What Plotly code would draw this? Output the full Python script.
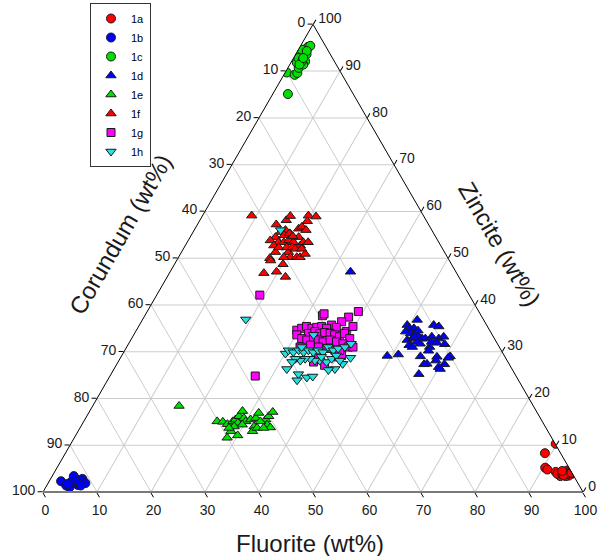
import plotly.graph_objects as go

# ---- data: (fluorite wt%, zincite wt%); corundum = remainder (computed by plotly from sum=100)
s1a_fluorite = [89.8, 88.8, 90.4, 91.0, 92.8, 93.6, 94.4, 94.8, 95.4, 96.0, 95.6, 95.1, 94.1, 93.3, 95.7, 94.2, 95.1, 94.6, 95.8, 93.9]
s1a_zincite  = [10.3, 8.3, 5.2, 4.8, 4.3, 3.9, 4.3, 4.6, 4.6, 3.9, 3.5, 3.4, 3.4, 3.9, 4.3, 3.9, 3.9, 3.6, 4.1, 4.5]

s1b_fluorite = [2.2, 3.6, 4.4, 4.0, 4.5, 5.7, 5.9, 6.9, 5.5, 5.0, 4.1, 3.7, 6.3]
s1b_zincite  = [2.3, 1.4, 1.0, 3.4, 1.9, 1.5, 2.8, 1.9, 2.5, 2.2, 2.1, 1.7, 1.4]

s1c_fluorite = [0.3, 2.8, 2.0, 2.3, 2.0, 1.1, 1.4, 1.3, 1.25, 1.2, 1.5, 1.8, 2.0, 2.5, 2.5, 0.8, 0.6, 1.7, 0.9, 1.9, 1.8, 1.8]
s1c_zincite  = [89.7, 85.1, 89.2, 89.6, 90.7, 91.8, 92.5, 93.2, 93.9, 94.6, 95.2, 95.4, 93.6, 92.1, 91.4, 93.6, 94.6, 94.3, 92.8, 92.1, 91.4, 92.8]

s1d_fluorite = [33.4, 50.9, 49.6, 50.3, 51.2, 50.0, 51.1, 52.0, 53.0, 53.8, 51.2, 52.0, 53.2, 52.1, 52.9, 54.0, 54.4, 55.4,
                55.9, 56.1, 56.3, 54.5, 55.6, 56.9, 57.6, 58.6, 57.0, 49.2, 51.1, 55.4, 57.4, 56.9, 58.5, 58.7, 60.9,
                60.7, 60.7, 59.9, 60.4, 57.0, 52.1, 52.2]
s1d_zincite  = [47.1, 36.8, 35.7, 35.0, 35.0, 34.3, 33.9, 33.9, 33.2, 32.8, 32.5, 32.8, 32.1, 31.4, 31.0, 31.7, 32.8, 33.2,
                32.1, 31.0, 30.2, 35.7, 35.4, 32.8, 33.2, 31.6, 31.9, 29.1, 29.4, 29.0, 27.4, 27.3, 28.9, 28.1, 29.0,
                28.7, 27.3, 26.7, 26.3, 25.2, 33.2, 34.5]

s1e_fluorite = [16.0, 24.7, 25.8, 26.9, 27.6, 27.9, 28.2, 28.3, 29.3, 28.7, 28.4, 28.3, 28.3, 30.0, 30.0, 30.7, 31.5, 31.5,
                32.1, 32.3, 32.8, 33.5, 33.7, 34.0, 34.3, 35.2, 34.0, 32.7, 29.7, 27.6]
s1e_zincite  = [18.4, 15.1, 15.0, 14.5, 15.1, 15.5, 16.2, 17.3, 15.8, 14.8, 14.0, 13.0, 11.6, 12.1, 15.1, 15.5, 15.8, 16.9,
                14.0, 13.0, 13.7, 15.5, 16.2, 17.1, 14.4, 13.8, 13.7, 15.1, 14.4, 13.7]

s1f_fluorite = [9.1, 14.6, 16.0, 16.3, 19.6, 21.1, 20.0, 19.2, 19.6, 20.7, 16.2, 16.9, 18.2, 15.8, 15.2, 16.9, 17.9, 18.6,
                19.7, 20.1, 21.3, 21.5, 22.4, 16.4, 17.4, 17.0, 17.4, 19.8, 20.7, 19.5, 21.9, 22.5, 23.1, 17.5, 19.7,
                20.1, 21.9, 17.5, 19.0, 20.0, 20.7, 21.9, 17.2, 18.0, 18.9]
s1f_zincite  = [59.1, 57.2, 58.1, 59.0, 59.1, 58.9, 57.9, 56.3, 56.7, 56.0, 55.6, 56.0, 55.2, 54.5, 53.8, 53.4, 53.4, 53.8,
                53.4, 54.5, 52.7, 53.4, 53.4, 52.7, 51.3, 50.0, 49.5, 51.3, 50.2, 50.2, 50.2, 50.2, 50.9, 46.8, 47.1,
                48.7, 46.0, 52.3, 52.3, 52.3, 52.0, 52.0, 54.9, 55.3, 54.7]

s1g_fluorite = [19.1, 26.9, 32.9, 33.0, 37.9, 39.1, 37.1, 35.6, 36.7, 39.0, 39.7, 29.7, 30.4, 31.1, 32.3, 33.1, 33.9, 35.0,
                32.2, 33.2, 34.3, 35.1, 36.2, 37.2, 38.3, 38.9, 40.4, 30.2, 31.5, 32.6, 33.7, 34.7, 35.8, 36.9, 38.3,
                39.7, 41.0, 41.9, 36.2, 38.6, 39.9, 40.7, 32.1, 33.8, 35.5, 37.4, 38.9, 39.8, 36.1]
s1g_zincite  = [42.1, 24.8, 37.7, 38.1, 37.4, 38.6, 36.4, 35.7, 35.2, 34.3, 35.4, 34.6, 35.0, 35.4, 35.0, 35.2, 35.4, 35.0,
                33.9, 34.3, 33.9, 34.1, 33.9, 33.6, 33.2, 33.9, 32.8, 33.6, 32.8, 32.5, 32.8, 32.5, 32.1, 32.5, 32.1,
                31.7, 31.0, 31.0, 27.8, 27.1, 28.9, 29.2, 31.0, 31.4, 31.0, 30.7, 30.3, 30.3, 28.9]

s1h_fluorite = [16.0, 19.1, 30.1, 30.3, 31.4, 32.2, 33.3, 34.0, 35.1, 35.8, 36.9, 37.3, 38.6, 39.3, 40.4, 41.2, 42.6, 41.8,
                40.9, 39.8, 38.6, 37.2, 36.3, 35.2, 34.3, 33.6, 32.5, 32.2, 32.0, 34.7, 35.1, 36.6, 37.6, 32.4, 33.3,
                37.1, 39.2, 39.7, 40.9]
s1h_zincite  = [56.0, 36.9, 29.6, 30.3, 29.9, 30.3, 29.9, 30.3, 29.9, 30.3, 29.9, 31.0, 30.3, 30.7, 31.0, 31.7, 28.7, 27.4,
                26.3, 26.1, 27.8, 28.1, 28.1, 28.5, 28.5, 28.1, 28.5, 27.8, 26.3, 25.2, 23.9, 24.5, 24.7, 31.0, 33.6,
                28.9, 28.5, 29.2, 28.1]

series_names = ["1a", "1b", "1c", "1d", "1e", "1f", "1g", "1h"]
series_fluorite = [s1a_fluorite, s1b_fluorite, s1c_fluorite, s1d_fluorite, s1e_fluorite, s1f_fluorite, s1g_fluorite, s1h_fluorite]
series_zincite = [s1a_zincite, s1b_zincite, s1c_zincite, s1d_zincite, s1e_zincite, s1f_zincite, s1g_zincite, s1h_zincite]

tick_values = [0, 10, 20, 30, 40, 50, 60, 70, 80, 90, 100]
tick_labels = ["100", "90", "80", "70", "60", "50", "40", "30", "20", "10", "0"]

# ---- styles
colors = ["#ff0000", "#0000ff", "#00e000", "#0000ff", "#00e000", "#ff0000", "#ff00ff", "#22e0e0"]
symbols = ["circle", "circle", "circle", "triangle-up", "triangle-up", "triangle-up", "square", "triangle-down"]
sizes = [9, 9, 9, 9, 9, 9, 8, 9]

FONT = "Liberation Sans, Arial, sans-serif"
TXT = "#1a1a1a"

fig = go.Figure()
for name, f, z, col, sym, sz in zip(series_names, series_fluorite, series_zincite, colors, symbols, sizes):
    fig.add_trace(go.Scatterternary(
        a=z, c=f, mode="markers", name=name,
        marker=dict(color=col, symbol=sym, size=sz, line=dict(color="#1a1a1a", width=1)),
    ))

W, H = 607, 556
L = 540.0
tri_h = L * 3 ** 0.5 / 2
left, bottom = 43.0, 492.0
cx = (left + L / 2) / W
cy = 1 - (bottom - tri_h / 2) / H
hw = (L / 2) / W
hh = (tri_h / 2) / H

axis_common = dict(
    tickmode="array", tickvals=tick_values, ticktext=tick_labels,
    ticks="outside", ticklen=5, tickcolor="black", tickwidth=1,
    showgrid=True, gridcolor="#cccccc", gridwidth=1,
    tickfont=dict(family=FONT, size=14, color=TXT),
    title=dict(text=""), showline=True, linewidth=1,
)

fig.update_layout(
    width=W, height=H,
    margin=dict(l=0, r=0, t=0, b=0),
    paper_bgcolor="white",
    font=dict(family=FONT, color=TXT),
    ternary=dict(
        sum=100,
        bgcolor="white",
        domain=dict(x=[cx - hw, cx + hw], y=[cy - hh, cy + hh]),
        aaxis=dict(axis_common, linecolor="black"),
        baxis=dict(axis_common, linecolor="#7a7a7a", linewidth=2),
        caxis=dict(axis_common, linecolor="black"),
    ),
    legend=dict(
        x=90 / W, y=1 - 3 / H, xanchor="left", yanchor="top",
        bordercolor="#333333", borderwidth=1, bgcolor="white",
        font=dict(family=FONT, size=11, color="black"),
    ),
    annotations=[
        dict(text="Fluorite (wt%)", x=310 / W, y=1 - 543 / H, xref="paper", yref="paper",
             showarrow=False, xanchor="center", yanchor="middle",
             font=dict(family=FONT, size=24, color=TXT)),
        dict(text="Corundum (wt%)", x=120 / W, y=1 - 234 / H, xref="paper", yref="paper",
             showarrow=False, xanchor="center", yanchor="middle", textangle=-60,
             font=dict(family=FONT, size=24, color=TXT)),
        dict(text="Zincite (wt%)", x=499 / W, y=1 - 244 / H, xref="paper", yref="paper",
             showarrow=False, xanchor="center", yanchor="middle", textangle=60,
             font=dict(family=FONT, size=24, color=TXT)),
    ],
)

fig.write_html("out.html")
